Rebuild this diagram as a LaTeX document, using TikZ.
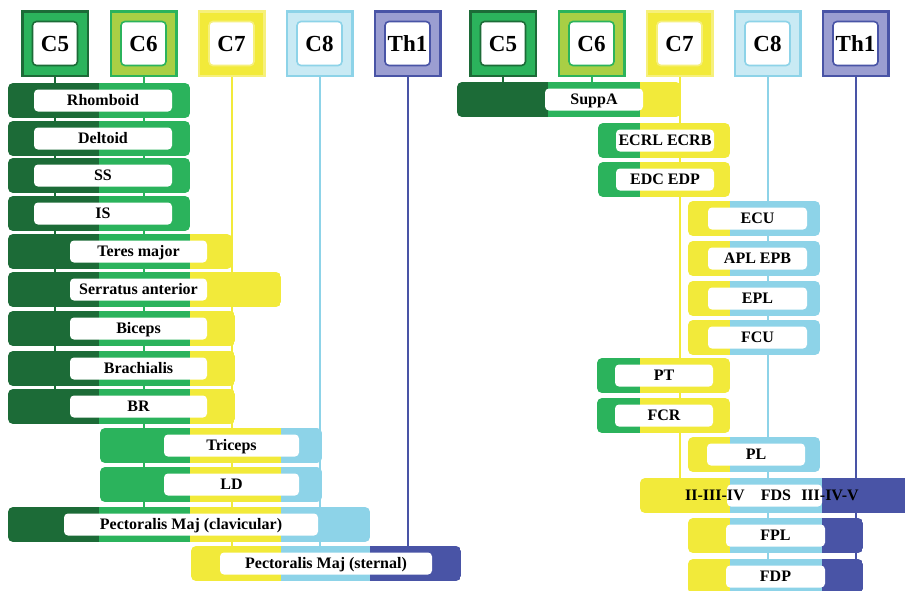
\documentclass[tikz,border=0pt]{standalone}
\usepackage{fontspec}
\setmainfont{Liberation Serif}
\definecolor{dg}{HTML}{1C6B37}
\definecolor{g}{HTML}{2BB35C}
\definecolor{yg}{HTML}{A9CF45}
\definecolor{yl}{HTML}{F2EA3A}
\definecolor{ylb}{HTML}{F6F07C}
\definecolor{lb}{HTML}{8DD3E8}
\definecolor{lbh}{HTML}{C9EAF4}
\definecolor{bl}{HTML}{4954A6}
\definecolor{blh}{HTML}{9B9ED1}
\newcommand\mbar[4]{%
  \begin{scope}
    \clip[rounded corners=5pt] (#2,#1) rectangle (#3,{#1+35});
    \foreach \sa/\sb/\sc in {#4}{\fill[\sc] (\sa,#1) rectangle (\sb,{#1+35});}
  \end{scope}}
\newcommand\lbl[5]{\node[lab, minimum width={((#3)-(#2))*1pt}] (#4) at ({((#2)+(#3))/2},{#1+17.5}) {#5};}
\begin{document}
\begin{tikzpicture}[x=1pt,y=-1pt,
  hdr/.style={draw, line width=2.5pt, minimum width=65.5pt, minimum height=64.5pt, inner sep=0pt},
  hin/.style={draw, fill=white, rounded corners=4pt, line width=1.6pt, minimum width=45pt, minimum height=44pt, inner sep=0pt,
     font=\bfseries\fontsize{23}{23}\selectfont, text height=15.2pt, text depth=0pt},
  lab/.style={fill=white, rounded corners=4pt, minimum height=22pt, inner sep=0pt,
     font=\bfseries\fontsize{16}{17}\selectfont, text height=10.6pt, text depth=0pt},
  labt/.style={inner sep=0pt, font=\bfseries\fontsize{16}{17}\selectfont, text height=10.6pt, text depth=0pt},
  vl/.style={line width=2pt}]
\useasboundingbox (0,0) rectangle (905,590);
% ---------- headers ----------
\foreach \side/\xa in {L/55,R/503}{
  \node[hdr, draw=dg, fill=g] (\side5o) at (\xa,43.5) {};
  \node[hin, draw=dg] (\side5) at (\xa,43.5) {C5};
  \node[hdr, draw=g, fill=yg] (\side6o) at ({\xa+88.5},43.5) {};
  \node[hin, draw=g] (\side6) at ({\xa+88.5},43.5) {C6};
  \node[hdr, draw=ylb, fill=yl] (\side7o) at ({\xa+176.5},43.5) {};
  \node[hin, draw=ylb] (\side7) at ({\xa+176.5},43.5) {C7};
  \node[hdr, draw=lb, fill=lbh] (\side8o) at ({\xa+264.5},43.5) {};
  \node[hin, draw=lb] (\side8) at ({\xa+264.5},43.5) {C8};
  \node[hdr, draw=bl, fill=blh] (\side To) at ({\xa+352.5},43.5) {};
  \node[hin, draw=bl] (\side T) at ({\xa+352.5},43.5) {Th1};
}
% ---------- line ends ----------
\coordinate (eL5) at (L5o |- 0,410);
\coordinate (eL6) at (L6o |- 0,525);
\coordinate (eL7) at (L7o |- 0,560);
\coordinate (eL8) at (L8o |- 0,560);
\coordinate (eLT) at (LTo |- 0,560);
\coordinate (eR5) at (R5o |- 0,100);
\coordinate (eR6) at (R6o |- 0,100);
\coordinate (eR7) at (R7o |- 0,495);
\coordinate (eR8) at (R8o |- 0,592);
\coordinate (eRT) at (RTo |- 0,592);
\draw[vl, dg] (L5o.south) -- (eL5);
\draw[vl, g] (L6o.south) -- (eL6);
\draw[vl, yl] (L7o.south) -- (eL7);
\draw[vl, lb] (L8o.south) -- (eL8);
\draw[vl, bl] (LTo.south) -- (eLT);
\draw[vl, dg] (R5o.south) -- (eR5);
\draw[vl, g] (R6o.south) -- (eR6);
\draw[vl, yl] (R7o.south) -- (eR7);
\draw[vl, lb] (R8o.south) -- (eR8);
\draw[vl, bl] (RTo.south) -- (eRT);
% ---------- left bars ----------
\mbar{83}{8}{190}{8/99/dg,99/190/g}   \lbl{83}{34}{172}{rhomb}{Rhomboid}
\mbar{121}{8}{190}{8/99/dg,99/190/g}  \lbl{121}{34}{172}{delt}{Deltoid}
\mbar{158}{8}{190}{8/99/dg,99/190/g}  \lbl{158}{34}{172}{ss}{SS}
\mbar{196}{8}{190}{8/99/dg,99/190/g}  \lbl{196}{34}{172}{is}{IS}
\mbar{234}{8}{232}{8/99/dg,99/190/g,190/232/yl} \lbl{234}{70}{207}{teres}{Teres major}
\mbar{272}{8}{281}{8/99/dg,99/190/g,190/281/yl} \lbl{272}{70}{207}{serr}{Serratus anterior}
\mbar{311}{8}{235}{8/99/dg,99/190/g,190/235/yl} \lbl{311}{70}{207}{bic}{Biceps}
\mbar{351}{8}{235}{8/99/dg,99/190/g,190/235/yl} \lbl{351}{70}{207}{brach}{Brachialis}
\mbar{389}{8}{235}{8/99/dg,99/190/g,190/235/yl} \lbl{389}{70}{207}{br}{BR}
\mbar{428}{100}{322}{100/190/g,190/281/yl,281/322/lb} \lbl{428}{164}{299}{tri}{Triceps}
\mbar{467}{100}{322}{100/190/g,190/281/yl,281/322/lb} \lbl{467}{164}{299}{ld}{LD}
\mbar{507}{8}{370}{8/99/dg,99/190/g,190/281/yl,281/370/lb} \lbl{507}{64}{318}{pmc}{Pectoralis Maj (clavicular)}
\mbar{546}{191}{461}{191/281/yl,281/370/lb,370/461/bl} \lbl{546}{220}{432}{pms}{Pectoralis Maj (sternal)}
% ---------- right bars ----------
\mbar{82}{457}{681}{457/548/dg,548/640/g,640/681/yl} \lbl{82}{545}{643}{supp}{SuppA}
\mbar{123}{598}{730}{598/640/g,640/730/yl} \lbl{123}{616}{714}{ecrl}{ECRL ECRB}
\mbar{162}{598}{730}{598/640/g,640/730/yl} \lbl{162}{616}{714}{edc}{EDC EDP}
\mbar{201}{688}{820}{688/730/yl,730/820/lb} \lbl{201}{708}{807}{ecu}{ECU}
\mbar{241}{688}{820}{688/730/yl,730/820/lb} \lbl{241}{708}{807}{apl}{APL EPB}
\mbar{281}{688}{820}{688/730/yl,730/820/lb} \lbl{281}{708}{807}{epl}{EPL}
\mbar{320}{688}{820}{688/730/yl,730/820/lb} \lbl{320}{708}{807}{fcu}{FCU}
\mbar{358}{597}{730}{597/640/g,640/730/yl} \lbl{358}{615}{713}{pt}{PT}
\mbar{398}{597}{730}{597/640/g,640/730/yl} \lbl{398}{615}{713}{fcr}{FCR}
\mbar{437}{688}{820}{688/730/yl,730/820/lb} \lbl{437}{707}{805}{pl}{PL}
\mbar{478}{640}{915}{640/730/yl,730/822/lb,822/915/bl} \lbl{478}{727}{822}{fdsbox}{}
\node[labt] (fdsa) at (715,495.5) {II-III-IV};
\node[labt] (fds) at (776,495.5) {FDS};
\node[labt] (fdsb) at (830,495.5) {III-IV-V};
\mbar{518}{688}{863}{688/730/yl,730/822/lb,822/863/bl} \lbl{518}{726}{825}{fpl}{FPL}
\mbar{559}{688}{863}{688/730/yl,730/822/lb,822/863/bl} \lbl{559}{726}{825}{fdp}{FDP}
\end{tikzpicture}
\end{document}
